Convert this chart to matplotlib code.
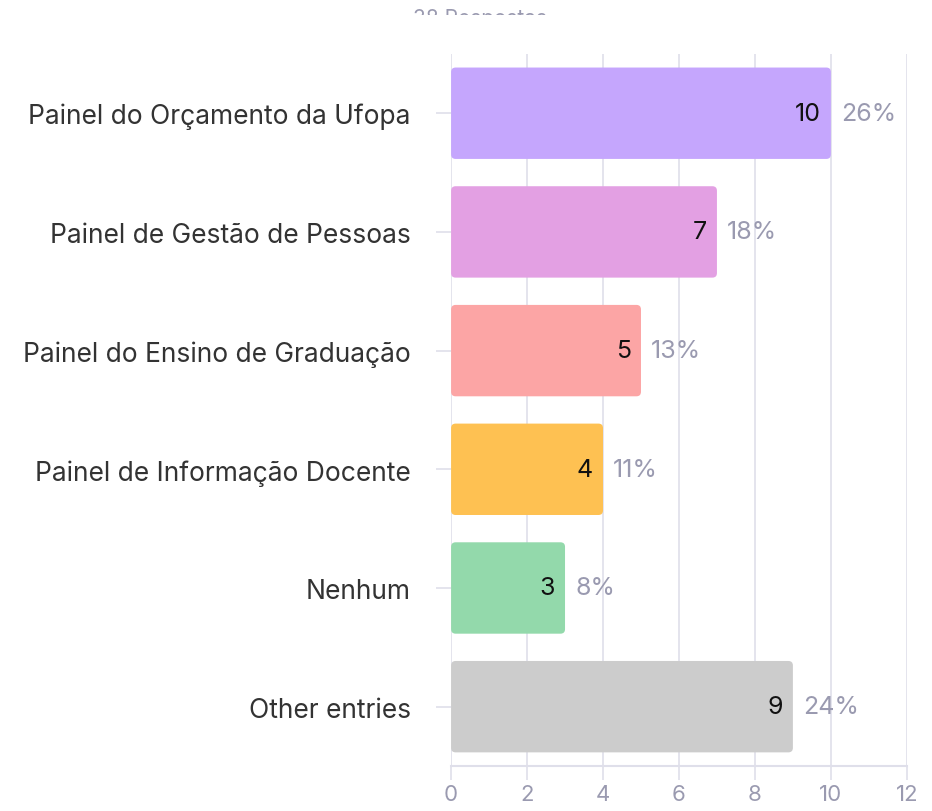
import matplotlib
matplotlib.use("Agg")
import matplotlib.pyplot as plt
from matplotlib.patches import FancyBboxPatch
from matplotlib.transforms import Bbox

plt.rcParams['font.family'] = ['Inter', 'DejaVu Sans']

categories = ["Painel do Orçamento da Ufopa", "Painel de Gestão de Pessoas",
              "Painel do Ensino de Graduação", "Painel de Informação Docente",
              "Nenhum", "Other entries"]
counts = [10, 7, 5, 4, 3, 9]
percents = ["26%", "18%", "13%", "11%", "8%", "24%"]
colors = ["#c5a6fd", "#e3a0e3", "#fca5a5", "#fec152", "#93d9ab", "#cccccc"]
xticks = [0, 2, 4, 6, 8, 10, 12]

fig = plt.figure(figsize=(9.32, 8.12), dpi=100)
ax = fig.add_axes([0.484, 0.0554, 0.489, 0.877])

grid_c = "#dfdfea"
tick_c = "#9a9ab0"

ypos = list(range(len(categories)))
bars = ax.barh(ypos, counts, height=0.77, color=colors)
# swap plain bars for slightly rounded ones
for b in bars:
    x0, y0 = b.get_x(), b.get_y()
    w, h = b.get_width(), b.get_height()
    p = FancyBboxPatch((x0, y0), w, h,
                       boxstyle="round,pad=0,rounding_size=0.12",
                       mutation_aspect=38 / 119,
                       fc=b.get_facecolor(), ec="none", zorder=3)
    b.set_visible(False)
    ax.add_patch(p)

for y, v, pc in zip(ypos, counts, percents):
    ax.text(v - 0.27, y, str(v), ha="right", va="center", fontsize=18,
            color="#111111", zorder=4)
    ax.text(v + 0.27, y, pc, ha="left", va="center", fontsize=18,
            color=tick_c, zorder=4)

ax.set_xlim(0, 12)
ax.set_ylim(5.5, -0.5)
ax.set_xticks(xticks)
ax.set_xticklabels([str(t) for t in xticks], fontsize=16, color=tick_c)
ax.set_yticks(ypos)
ax.set_yticklabels(categories, fontsize=19, color="#333333")
ax.xaxis.grid(True, color=grid_c, linewidth=1.2, zorder=0)
ax.set_axisbelow(True)
for s in ["top", "right", "left"]:
    ax.spines[s].set_visible(False)
ax.spines["bottom"].set_color(grid_c)
ax.spines["bottom"].set_linewidth(1.5)
ax.tick_params(axis="x", length=10, width=1.2, color=grid_c, pad=3)
ax.tick_params(axis="y", length=11, width=1.2, color=grid_c, pad=18)

# header text that is cut off in the original
t = fig.text(413 / 932, 1 - 9 / 812, "38 Respostas", ha="left", va="top",
             fontsize=15, color=tick_c)
t.set_clip_box(Bbox([[0, 812 - 16], [932, 812]]))
t.set_clip_on(True)

fig.savefig("out.png", dpi=100)
